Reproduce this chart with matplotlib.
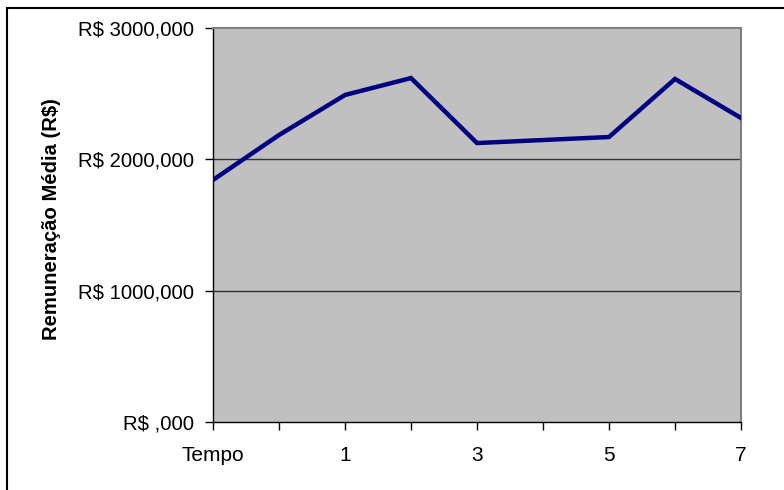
import matplotlib.pyplot as plt
from matplotlib.patches import Rectangle

categories = ['Tempo', '0', '1', '2', '3', '4', '5', '6', '7']
remuneracao = [1843, 2185, 2490, 2619, 2124, 2147, 2170, 2612, 2315]
y_ticks = [0, 1000, 2000, 3000]
y_labels = ['R$ ,000', 'R$ 1000,000', 'R$ 2000,000', 'R$ 3000,000']

plt.rcParams['font.family'] = ['Liberation Sans', 'DejaVu Sans']

fig = plt.figure(figsize=(7.84, 4.9), dpi=100)
ax = fig.add_axes([213 / 784, 1 - 422 / 490, (741 - 213) / 784, (422 - 28) / 490])
ax.set_facecolor('#c0c0c0')

x = list(range(len(categories)))
ax.plot(x, remuneracao, color='#000080', linewidth=3.2, solid_joinstyle='miter', zorder=3)

ax.set_xlim(0, len(categories) - 1)
ax.set_ylim(0, 3000)
ax.set_yticks(y_ticks)
ax.set_yticklabels(y_labels, fontsize=14.6)
ax.set_xticks(x)
ax.set_xticklabels([c if i % 2 == 0 else '' for i, c in enumerate(categories)], fontsize=15)
ax.tick_params(axis='y', length=6, width=1, pad=8)
ax.tick_params(axis='x', length=6, width=1, pad=11)

for v in y_ticks[1:-1]:
    ax.axhline(v, color='#333333', linewidth=1, zorder=1)

for s in ['top', 'right']:
    ax.spines[s].set_color('#808080')
    ax.spines[s].set_linewidth(1.5)
for s in ['left', 'bottom']:
    ax.spines[s].set_color('black')
    ax.spines[s].set_linewidth(1)

fig.text(52 / 784, 1 - 219 / 490, 'Remuneração Média (R$)', rotation=90,
         fontsize=14.6, fontweight='bold', ha='center', va='center')

# chart border
fig.patches.append(Rectangle((7 / 784, -0.01), 1.0, 1 - 8 / 490 + 0.01,
                             transform=fig.transFigure, fill=False,
                             edgecolor='black', linewidth=1.5))

plt.savefig('out.png', dpi=100)
